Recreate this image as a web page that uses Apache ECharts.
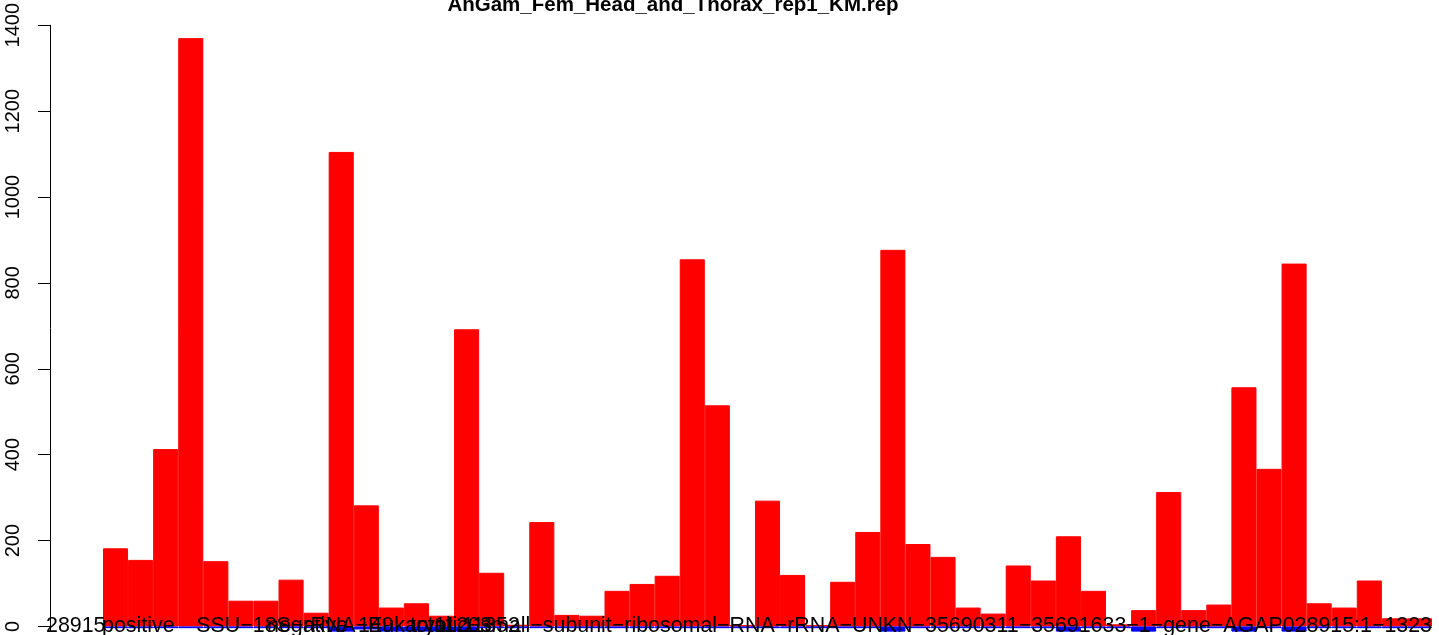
<!DOCTYPE html>
<html>
<head>
<meta charset="utf-8">
<script src="https://cdn.jsdelivr.net/npm/echarts@6/dist/echarts.min.js"></script>
<style>
html,body{margin:0;padding:0;background:#fff;}
#chart{width:1439px;height:635px;}
</style>
</head>
<body>
<div id="chart"></div>
<script>
const categories = ['1','2','3','4','5','6','7','8','9','10','11','12','13','14','15','16','17','18','19','20','21','22','23','24','25','26','27','28','29','30','31','32','33','34','35','36','37','38','39','40','41','42','43','44','45','46','47','48','49','50','51','52','53'];
const positiveCounts = [182,155,413,1370,152,60,60,109,32,1105,282,44,54,25,692,125,4,243,27,25,83,99,118,855,515,3,293,120,3,104,220,877,192,162,44,30,142,107,210,83,5,38,313,38,51,557,367,845,54,44,107,19,19];
const negativeCounts = [-4,-4,-4,-4,-4,-4,-4,-4,-4,-12,-7,-12,-12,-12,-12,-4,-4,-4,-4,-4,-4,-4,-4,-4,-4,-4,-4,-4,-4,-4,-4,-12,-4,-4,-4,-4,-4,-4,-12,-4,-4,-12,-4,-4,-4,-12,-4,-12,-4,-4,-4,-4,-4];
const yTicks = [0,200,400,600,800,1000,1200,1400];
const titleText = 'AnGam_Fem_Head_and_Thorax_rep1_KM.rep';
const featureLabel = 'SSU−18S−rRNA−Eukaryotic−small−subunit−ribosomal−RNA−rRNA−UNKN−35690311−35691633−1−gene−AGAP028915:1−1323';
const overlayLabels = ['28915', 'positive', 'negative', '149', 'total', '11203', '11352'];

const chart = echarts.init(document.getElementById('chart'));
const font = '"Liberation Sans", Arial, Helvetica, sans-serif';
const bottomFont = '21.4px ' + font;
const overlayX = [46, 102, 267, 358, 410, 434, 462];
const graphics = [
  {type:'text', x:673, y:15.5, z:100,
   style:{text:titleText, font:'bold 20.5px ' + font, fill:'#000', textAlign:'center', textVerticalAlign:'bottom'}},
  {type:'text', x:1432, y:637, z:100,
   style:{text:featureLabel, font:bottomFont, fill:'#000', textAlign:'right', textVerticalAlign:'bottom'}}
];
overlayLabels.forEach((t, i) => {
  graphics.push({type:'text', x:overlayX[i], y:637, z:100,
    style:{text:t, font:bottomFont, fill:'#000', textAlign:'left', textVerticalAlign:'bottom'}});
});

chart.setOption({
  animation:false,
  backgroundColor:'#fff',
  grid:{left:103, right:7, top:23, bottom:0, containLabel:false},
  xAxis:{type:'category', data:categories, show:false},
  yAxis:{type:'value', min:-12, max:1400, offset:53,
    axisLine:{show:true, lineStyle:{color:'#000', width:1}},
    axisTick:{show:true, length:12, customValues:yTicks, lineStyle:{color:'#000', width:1}},
    axisLabel:{show:true, customValues:yTicks, rotate:90, margin:27, fontSize:20, fontFamily:font, color:'#000',
      formatter:(v) => String(v)},
    splitLine:{show:false}},
  series:[
    {name:'positive', type:'bar', data:positiveCounts, barCategoryGap:0, barGap:'-100%',
     itemStyle:{color:'#ff0000', borderColor:'#ff0000', borderWidth:1}},
    {name:'negative', type:'bar', data:negativeCounts, barCategoryGap:0, barGap:'-100%',
     itemStyle:{color:'#0000ff', borderColor:'#0000ff', borderWidth:1}}
  ],
  graphic:graphics
});
</script>
</body>
</html>
